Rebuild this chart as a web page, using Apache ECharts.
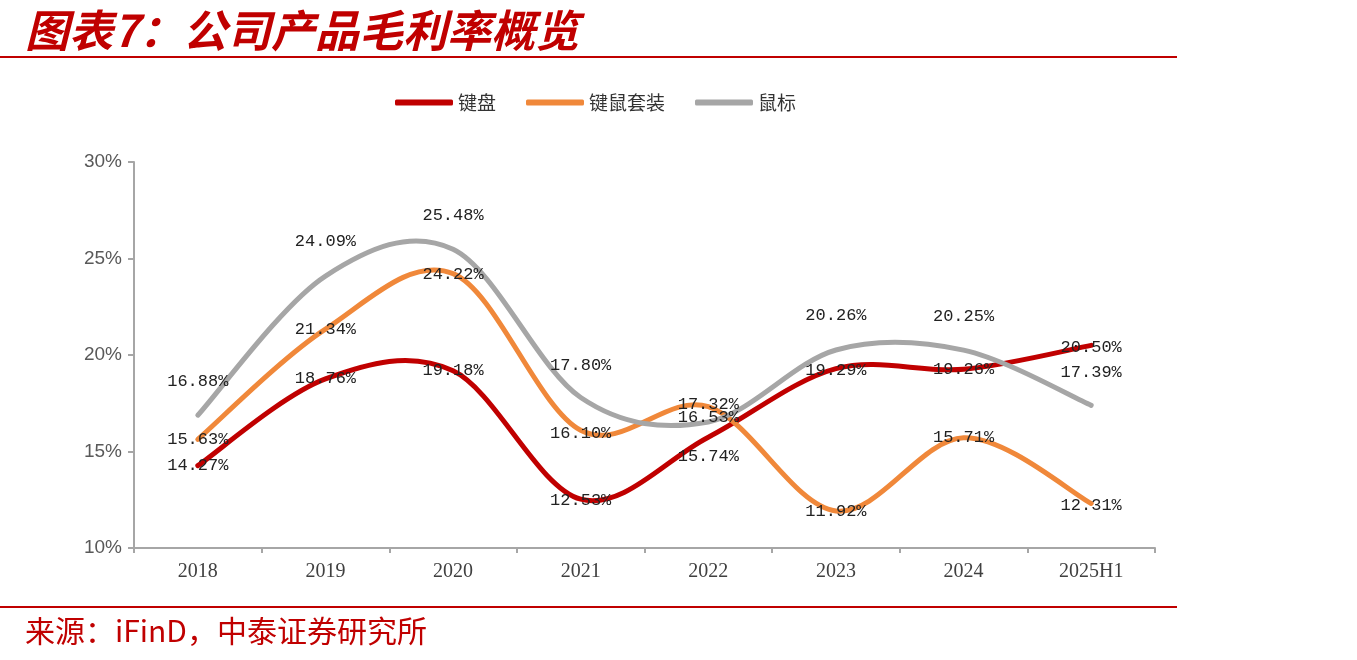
<!DOCTYPE html>
<html><head><meta charset="utf-8">
<script src="https://cdn.jsdelivr.net/npm/echarts@6/dist/echarts.min.js"></script>
<style>html,body{margin:0;padding:0;background:#fff}#c{width:1357px;height:660px}</style>
</head><body><div id="c"></div>
<script>
const categories = ['2018','2019','2020','2021','2022','2023','2024','2025H1'];
const keyboard = [14.27, 18.76, 19.18, 12.53, 15.74, 19.29, 19.26, 20.50];
const combo = [15.63, 21.34, 24.22, 16.10, 17.32, 11.92, 15.71, 12.31];
const mouse = [16.88, 24.09, 25.48, 17.80, 16.53, 20.26, 20.25, 17.39];
const yTicks = [10, 15, 20, 25, 30];
// label vertical offsets (style only)
const kbOff = [0, 0, 0, 1, 19, 2, 0, 2];
const coOff = [0, 0, 1, 3, -2, 1, 0, 2];
const moOff = [-34, -35, -34, -32, -4, -34, -34, -33];

const chart = echarts.init(document.getElementById('c'));

// Excel-like smooth curve (Catmull-Rom -> cubic Bezier) through axis coordinates
function curveSeries(name, vals, color) {
  return {
    name, type: 'custom', z: 1, clip: false, silent: true,
    itemStyle: { color },
    data: vals.map((v, i) => [i, v]),
    encode: { x: 0, y: 1 },
    renderItem: (params, api) => {
      if (params.dataIndex !== 0) return { type: 'group', children: [] };
      const p = vals.map((v, i) => api.coord([i, v]));
      const n = p.length;
      let d = 'M' + p[0][0] + ' ' + p[0][1];
      for (let i = 0; i < n - 1; i++) {
        const p0 = p[Math.max(i - 1, 0)], p1 = p[i], p2 = p[i + 1], p3 = p[Math.min(i + 2, n - 1)];
        const c1x = p1[0] + (p2[0] - p0[0]) / 6, c1y = p1[1] + (p2[1] - p0[1]) / 6;
        const c2x = p2[0] - (p3[0] - p1[0]) / 6, c2y = p2[1] - (p3[1] - p1[1]) / 6;
        d += ' C' + c1x + ' ' + c1y + ' ' + c2x + ' ' + c2y + ' ' + p2[0] + ' ' + p2[1];
      }
      return {
        type: 'path', shape: { pathData: d },
        style: { fill: null, stroke: color, lineWidth: 5, lineCap: 'round', lineJoin: 'round' }
      };
    }
  };
}
const labelStyle = {
  show: true, position: 'inside', color: '#222',
  fontFamily: 'Liberation Mono', fontSize: 17,
  formatter: p => p.value.toFixed(2) + '%'
};
function labelSeries(name, vals, offs, color) {
  return {
    name, type: 'line', z: 3, silent: true,
    data: vals.map((v, i) => ({ value: v, label: { offset: [0, offs[i]] } })),
    symbol: 'circle', symbolSize: 1, showSymbol: true,
    lineStyle: { width: 0, opacity: 0 },
    itemStyle: { color },
    label: labelStyle
  };
}
chart.setOption({
  animation: false,
  title: [{
    text: '图表7：公司产品毛利率概览', left: 20, top: 3,
    textStyle: { color: '#C00000', fontSize: 44, fontWeight: 'bold', fontStyle: 'italic', fontFamily: 'Noto Sans CJK SC' }
  }, {
    text: '来源：iFinD，中泰证券研究所', left: 20, top: 611,
    textStyle: { color: '#C00000', fontSize: 30, fontWeight: 'normal', fontFamily: 'Noto Sans CJK SC' }
  }],
  graphic: [
    { type: 'rect', shape: { x: 0, y: 56, width: 1177, height: 2 }, style: { fill: '#C00000' } },
    { type: 'rect', shape: { x: 0, y: 606, width: 1177, height: 2 }, style: { fill: '#C00000' } }
  ],
  legend: {
    left: 390, top: 88, itemWidth: 58, itemHeight: 6, itemGap: 30,
    icon: 'roundRect',
    textStyle: { fontSize: 19, color: '#333', fontFamily: 'Noto Sans CJK SC' },
    data: ['键盘', '键鼠套装', '鼠标']
  },
  grid: { left: 134, right: 202, top: 162, bottom: 112, containLabel: false },
  xAxis: {
    type: 'category', data: categories, boundaryGap: true,
    axisLine: { lineStyle: { color: '#A6A6A6', width: 2 } },
    axisTick: { show: true, length: 5, lineStyle: { color: '#A6A6A6', width: 2 } },
    axisLabel: { color: '#404040', fontSize: 20, fontFamily: 'Liberation Serif', margin: 14 }
  },
  yAxis: {
    type: 'value', min: yTicks[0], max: yTicks[yTicks.length - 1], interval: 5,
    axisLine: { show: true, lineStyle: { color: '#A6A6A6', width: 2 } },
    axisTick: { show: true, length: 6, lineStyle: { color: '#A6A6A6', width: 2 } },
    splitLine: { show: false },
    axisLabel: { color: '#595959', fontSize: 19, fontFamily: 'Liberation Sans', margin: 12, formatter: v => v + '%' }
  },
  series: [
    curveSeries('键盘', keyboard, '#C00000'),
    curveSeries('键鼠套装', combo, '#F0883A'),
    curveSeries('鼠标', mouse, '#A6A6A6'),
    labelSeries('键盘', keyboard, kbOff, '#C00000'),
    labelSeries('键鼠套装', combo, coOff, '#F0883A'),
    labelSeries('鼠标', mouse, moOff, '#A6A6A6')
  ]
});
</script></body></html>
